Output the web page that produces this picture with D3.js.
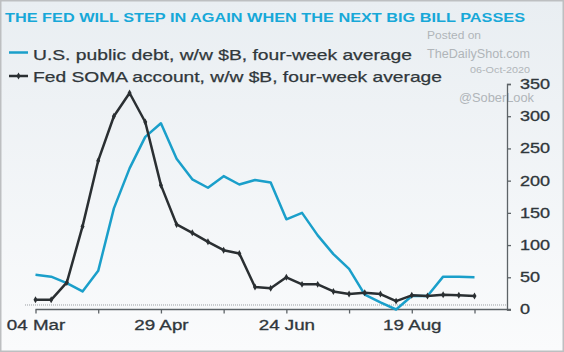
<!DOCTYPE html>
<html>
<head>
<meta charset="utf-8">
<script src="https://cdn.jsdelivr.net/npm/d3@7"></script>
<style>
  html, body { margin: 0; padding: 0; background: #fff; }
  svg { display: block; font-family: 'Liberation Sans', Arial, sans-serif; }
</style>
</head>
<body>
<div id="chart"></div>
<script>
// weekly observations
const dates = ['2020-03-04', '2020-03-11', '2020-03-18', '2020-03-25', '2020-04-01',
  '2020-04-08', '2020-04-15', '2020-04-22', '2020-04-29', '2020-05-06', '2020-05-13',
  '2020-05-20', '2020-05-27', '2020-06-03', '2020-06-10', '2020-06-17', '2020-06-24',
  '2020-07-01', '2020-07-08', '2020-07-15', '2020-07-22', '2020-07-29', '2020-08-05',
  '2020-08-12', '2020-08-19', '2020-08-26', '2020-09-02', '2020-09-09', '2020-09-16'];
const publicDebt = [54, 51, 41, 28, 60, 157, 219, 268, 289, 234, 202, 189, 207, 194, 201,
  197, 140, 150, 115, 86, 63, 23, 11, 0, 21, 21, 51, 51, 50];
const somaAccount = [15, 15, 42, 129, 231, 300, 336, 291, 193, 132, 119, 105, 92, 87, 35,
  33, 50, 39, 39, 28, 24, 26, 24, 13, 22, 21, 23, 22, 21];
const xTickDates = ['2020-03-04', '2020-04-01', '2020-04-29', '2020-05-27',
  '2020-06-24', '2020-07-22', '2020-08-19', '2020-09-16'];
const xTickLabels = ['04 Mar', '', '29 Apr', '', '24 Jun', '', '19 Aug', ''];
const yTicks = [0, 50, 100, 150, 200, 250, 300, 350];
const baselineValue = 7;

const W = 564, H = 352;
const parse = d3.timeParse('%Y-%m-%d');
const BLUE = '#1a9fca', DARK = '#2a2f32', TEXT = '#30373b';

const svg = d3.select('#chart').append('svg')
  .attr('width', W).attr('height', H);

const grad = svg.append('defs').append('linearGradient')
  .attr('id', 'bg').attr('x1', 0).attr('y1', 0).attr('x2', 0).attr('y2', 1);
grad.append('stop').attr('offset', '0%').attr('stop-color', '#e9eef2');
grad.append('stop').attr('offset', '100%').attr('stop-color', '#fafbfc');

svg.append('rect')
  .attr('x', 0.75).attr('y', 0.75).attr('width', W - 1.5).attr('height', H - 1.5)
  .attr('fill', 'url(#bg)').attr('stroke', '#bdbfc1').attr('stroke-width', 1.5);

// stretch glyphs to the wide look of the original
function fit(sel, w) {
  sel.attr('textLength', w).attr('lengthAdjust', 'spacingAndGlyphs');
}
function widen(sel, k) {
  sel.each(function () {
    const w = this.getComputedTextLength();
    if (w > 0) fit(d3.select(this), w * k);
  });
}

const x = d3.scaleTime()
  .domain([parse(dates[0]), parse(dates[dates.length - 1])])
  .range([35.5, 474.5]);
const y = d3.scaleLinear().domain([0, 350]).range([309.5, 84]);
const axisX = 507;

// title
svg.append('text')
  .attr('x', 5).attr('y', 22)
  .attr('fill', '#17a8d8').attr('font-weight', 'bold').attr('font-size', 13)
  .text('THE FED WILL STEP IN AGAIN WHEN THE NEXT BIG BILL PASSES')
  .call(fit, 520);

// watermark
const wm = svg.append('g').attr('fill', '#b0b5b9');
wm.append('text').attr('x', 427).attr('y', 39).attr('font-size', 11.5)
  .text('Posted on').call(fit, 54);
wm.append('text').attr('x', 427).attr('y', 58).attr('font-size', 12.5)
  .text('TheDailyShot.com').call(fit, 103);
wm.append('text').attr('x', 470).attr('y', 73).attr('font-size', 9.5)
  .text('06-Oct-2020').call(fit, 60);
wm.append('text').attr('x', 459).attr('y', 102).attr('font-size', 12.5)
  .text('@SoberLook').call(fit, 75);

// legend
const legend = svg.append('g');
legend.append('line').attr('x1', 9).attr('x2', 28).attr('y1', 52.5).attr('y2', 52.5)
  .attr('stroke', BLUE).attr('stroke-width', 2.5);
legend.append('text').attr('x', 33).attr('y', 60).attr('font-size', 15)
  .attr('fill', TEXT).attr('stroke', TEXT).attr('stroke-width', 0.25)
  .text('U.S. public debt, w/w $B, four-week average').call(fit, 379);
legend.append('line').attr('x1', 9).attr('x2', 28).attr('y1', 76).attr('y2', 76)
  .attr('stroke', DARK).attr('stroke-width', 2.5);
legend.append('path').attr('transform', 'translate(18.5,76)')
  .attr('d', d3.symbol(d3.symbolDiamond, 14)()).attr('fill', DARK);
legend.append('text').attr('x', 33).attr('y', 82).attr('font-size', 15)
  .attr('fill', TEXT).attr('stroke', TEXT).attr('stroke-width', 0.25)
  .text('Fed SOMA account, w/w $B, four-week average').call(fit, 409);

// thin reference line just above the axis
svg.append('line')
  .attr('x1', 25).attr('x2', axisX)
  .attr('y1', y(baselineValue)).attr('y2', y(baselineValue))
  .attr('stroke', '#9a9fa3').attr('stroke-width', 1).attr('stroke-dasharray', '1,1');

// x axis
const gx = svg.append('g').attr('transform', 'translate(0,' + y(0) + ')');
gx.append('line').attr('x1', x(parse(dates[0]))).attr('x2', axisX + 4)
  .attr('stroke', '#5d6367').attr('stroke-width', 1.3);
gx.call(d3.axisBottom(x)
  .tickValues(xTickDates.map(parse))
  .tickFormat((d, i) => xTickLabels[i])
  .tickSize(4).tickPadding(7));
gx.select('.domain').remove();
gx.selectAll('.tick line').attr('stroke', '#5d6367').attr('stroke-width', 1.3);
gx.selectAll('.tick text')
  .attr('font-family', 'Liberation Sans, Arial, sans-serif')
  .attr('font-size', 14).attr('fill', TEXT)
  .attr('stroke', TEXT).attr('stroke-width', 0.3)
  .call(widen, 1.34);

// y axis on the right
const gy = svg.append('g').attr('transform', 'translate(' + axisX + ',0)');
gy.call(d3.axisRight(y).tickValues(yTicks).tickSize(4).tickSizeOuter(4).tickPadding(9));
gy.select('.domain').attr('stroke', '#5d6367').attr('stroke-width', 1.3);
gy.selectAll('.tick line').attr('stroke', '#5d6367').attr('stroke-width', 1.3);
gy.selectAll('.tick text')
  .attr('font-family', 'Liberation Sans, Arial, sans-serif')
  .attr('font-size', 14).attr('fill', TEXT)
  .attr('stroke', TEXT).attr('stroke-width', 0.3)
  .call(widen, 1.29);

// series
const line = d3.line()
  .x((d, i) => x(parse(dates[i])))
  .y((d) => y(d));

svg.append('path').datum(publicDebt)
  .attr('d', line).attr('fill', 'none')
  .attr('stroke', BLUE).attr('stroke-width', 2.5).attr('stroke-linejoin', 'round');

svg.append('path').datum(somaAccount)
  .attr('d', line).attr('fill', 'none')
  .attr('stroke', DARK).attr('stroke-width', 2.5).attr('stroke-linejoin', 'round');

svg.selectAll('.soma-pt')
  .data(somaAccount)
  .enter()
  .append('path')
  .attr('class', 'soma-pt')
  .attr('transform', (d, i) => 'translate(' + x(parse(dates[i])) + ',' + y(d) + ')')
  .attr('d', d3.symbol(d3.symbolDiamond, 14)())
  .attr('fill', DARK);
</script>
</body>
</html>
